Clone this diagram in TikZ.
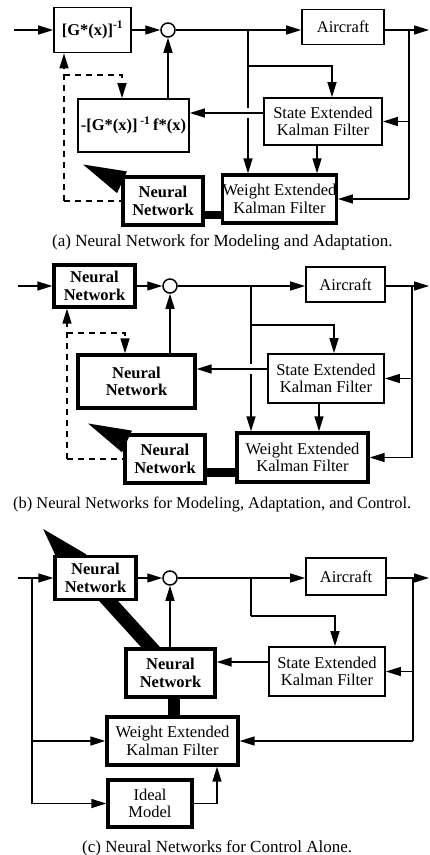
\documentclass[tikz,border=0pt]{standalone}
\usepackage{fontspec}
\setmainfont{Liberation Serif}
\usetikzlibrary{arrows.meta,backgrounds,calc}

\tikzset{
  wire/.style={line width=1.4pt},
  headtip/.style={-{Triangle[length=15pt,width=9pt]}},
  arr/.style={wire,headtip},
  dashwire/.style={line width=1.4pt, dash pattern=on 6pt off 5pt},
  plainbox/.style={draw, line width=1.7pt, fill=white, inner sep=0pt, align=center,
    font=\fontsize{16.5pt}{17.5pt}\selectfont},
  heavybox/.style={plainbox, line width=3.3pt},
  nnbox/.style={heavybox, font=\fontsize{16.5pt}{17.5pt}\selectfont\bfseries},
  sumnode/.style={circle, draw, line width=1.5pt, fill=white, minimum size=14pt, inner sep=0pt},
  thickbar/.style={line width=#1},
  fatarrow/.style={line width=6pt, -{Triangle[length=44pt,width=22pt]}},
  longarrow/.style={line width=14pt, -{Triangle[length=60pt,width=24pt]}},
  captext/.style={anchor=base west, inner sep=0pt, font=\fontsize{17pt}{20pt}\selectfont},
}

\begin{document}
\begin{tikzpicture}[x=1pt,y=-1pt]
\useasboundingbox (0,0) rectangle (429,855);

%% ---------------- (a) modeling and adaptation ----------------
\node[plainbox, minimum width=77pt, minimum height=45pt] (ga) at (92.5,30) {\textbf{[G*(x)]\textsuperscript{-1}}};
\node[sumnode] (ca) at (168,30) {};
\node[plainbox, minimum width=82pt, minimum height=35pt] (aa) at (343,27) {Aircraft};
\node[plainbox, minimum width=118pt, minimum height=47pt] (sa) at (323,121.5) {State Extended\\Kalman Filter};
\node[plainbox, minimum width=111pt, minimum height=53pt] (fa) at (133.5,125.5) {\textbf{-[G*(x)]\,\textsuperscript{-1}\,f*(x)}};
\node[nnbox, minimum width=80pt, minimum height=48pt] (na) at (163,201) {Neural\\Network};
\node[heavybox, minimum width=89pt, minimum height=48pt] (wa) at (279.5,199) {Weight Extended\\Kalman Filter};

\coordinate (ina) at (14,30);
\coordinate (outa) at (429,30);
\coordinate (ja) at (248,30);
\coordinate (ka) at (248,66);
\coordinate (la) at (332,66);
\coordinate (ra) at (409,30);
\coordinate (hfa) at (248,113);
\coordinate (da) at (64,75);
\coordinate (ea) at (122,75);
\coordinate (qa) at (64,201);
\coordinate (tipa) at (82,164);
\coordinate (sba) at (317,0);

\draw[arr] (ina) -- (ga);
\draw[arr] (ga) -- (ca);
\draw[arr] (ca) -- (ca -| aa.west);
\draw[arr] (aa.east |- outa) -- (outa);
\draw[wire] (ja) -- ($(hfa)+(0,-5)$);
\draw[arr] ($(hfa)+(0,5)$) -- (ja |- wa.north);
\draw[arr] (ka) -- (la) -- (la |- sa.north);
\draw[wire] (ra) -- (ra |- wa.east);
\draw[arr] (ra |- sa.east) -- (sa.east);
\draw[arr] (ra |- wa.east) -- (wa.east);
\draw[arr] (sba |- sa.south) -- (sba |- wa.north);
\draw[arr] (sa.west |- hfa) -- (fa.east |- hfa);
\draw[arr] (fa.north -| ca) -- (ca);
\draw[dashwire, headtip] (qa) -- (da) -- (ga.south -| da);
\draw[dashwire, headtip] (da) -- (ea) -- (ea |- fa.north);
\draw[dashwire] (qa) -- (qa -| na.west);
\draw[thickbar=8pt] (na.east |- 0,215) -- (wa.west |- 0,215);
\draw[fatarrow] (na) -- (tipa);

\node[captext] (capa) at (52,246) {(a) Neural Network for Modeling and Adaptation.};

%% ---------------- (b) modeling, adaptation and control ----------------
\node[nnbox, minimum width=81pt, minimum height=42pt] (nb) at (94.5,286) {Neural\\Network};
\node[sumnode] (cb) at (170,286) {};
\node[plainbox, minimum width=79pt, minimum height=35pt] (ab) at (345.5,284.5) {Aircraft};
\node[plainbox, minimum width=116pt, minimum height=49pt] (sb) at (326,378.5) {State Extended\\Kalman Filter};
\node[nnbox, minimum width=117pt, minimum height=53pt] (mb) at (136.5,381.5) {Neural\\Network};
\node[heavybox, minimum width=131pt, minimum height=49pt] (wb) at (302.5,457.5) {Weight Extended\\Kalman Filter};
\node[nnbox, minimum width=80pt, minimum height=48pt] (nbb) at (165,459) {Neural\\Network};

\coordinate (inb) at (18,286);
\coordinate (outb) at (429,286);
\coordinate (jb) at (251,286);
\coordinate (kb) at (251,325);
\coordinate (lb) at (334,325);
\coordinate (rb) at (412,286);
\coordinate (hfb) at (251,369);
\coordinate (db) at (67,333);
\coordinate (eb) at (125,333);
\coordinate (qb) at (67,459);
\coordinate (tipb) at (87,423);
\coordinate (sbb) at (319,0);

\draw[arr] (inb) -- (nb);
\draw[arr] (nb) -- (cb);
\draw[arr] (cb) -- (cb -| ab.west);
\draw[arr] (ab.east |- outb) -- (outb);
\draw[wire] (jb) -- ($(hfb)+(0,-5)$);
\draw[arr] ($(hfb)+(0,5)$) -- (jb |- wb.north);
\draw[arr] (kb) -- (lb) -- (lb |- sb.north);
\draw[wire] (rb) -- (rb |- wb.east);
\draw[arr] (rb |- sb.east) -- (sb.east);
\draw[arr] (rb |- wb.east) -- (wb.east);
\draw[arr] (sbb |- sb.south) -- (sbb |- wb.north);
\draw[arr] (sb.west |- hfb) -- (mb.east |- hfb);
\draw[arr] (mb.north -| cb) -- (cb);
\draw[dashwire, headtip] (qb) -- (db) -- (nb.south -| db);
\draw[dashwire, headtip] (db) -- (eb) -- (eb |- mb.north);
\draw[dashwire] (qb) -- (qb -| nbb.west);
\draw[thickbar=9pt] (nbb.east |- 0,472) -- (wb.west |- 0,472);
\draw[fatarrow] (nbb) -- (tipb);

\node[captext, font=\fontsize{16.4pt}{20pt}\selectfont] (capb) at (13,508) {(b) Neural Networks for Modeling, Adaptation, and Control.};

%% ---------------- (c) control alone ----------------
\node[nnbox, minimum width=81pt, minimum height=43pt] (nc) at (95.5,578) {Neural\\Network};
\node[sumnode] (cc) at (170,578) {};
\node[plainbox, minimum width=80pt, minimum height=37pt] (ac) at (346,576.5) {Aircraft};
\node[plainbox, minimum width=116pt, minimum height=49pt] (sc) at (327,671.5) {State Extended\\Kalman Filter};
\node[nnbox, minimum width=89pt, minimum height=48pt] (mc) at (170.5,673) {Neural\\Network};
\node[heavybox, minimum width=131pt, minimum height=48pt] (wc) at (172.5,741) {Weight Extended\\Kalman Filter};
\node[heavybox, minimum width=84pt, minimum height=47pt] (ic) at (150,803.5) {Ideal\\Model};

\coordinate (inc) at (18,578);
\coordinate (lc) at (32,578);
\coordinate (outc) at (429,578);
\coordinate (jc) at (251,578);
\coordinate (kc) at (251,616);
\coordinate (mcn) at (335,616);
\coordinate (rc) at (413,578);
\coordinate (hfc) at (0,662);
\coordinate (uc) at (217,803.5);
\coordinate (bc) at (174,0);
\coordinate (stc) at (155,652);
\coordinate (tipc) at (35,520);

\draw[arr] (inc) -- (nc);
\draw[arr] (nc) -- (cc);
\draw[arr] (cc) -- (cc -| ac.west);
\draw[arr] (ac.east |- outc) -- (outc);
\draw[wire] (jc) -- (kc);
\draw[arr] (kc) -- (mcn) -- (mcn |- sc.north);
\draw[wire] (rc) -- (rc |- wc.east);
\draw[arr] (rc |- sc.east) -- (sc.east);
\draw[arr] (rc |- wc.east) -- (wc.east);
\draw[arr] (sc.west |- hfc) -- (mc.east |- hfc);
\draw[arr] (mc.north -| cc) -- (cc);
\draw[wire] (lc) -- (lc |- ic.west);
\draw[arr] (lc |- wc.west) -- (wc.west);
\draw[arr] (lc |- ic.west) -- (ic.west);
\draw[arr] (ic.east) -- (uc) -- (uc |- wc.south);
\draw[thickbar=12pt] (bc |- mc.south) -- (bc |- wc.north);

\node[captext] (capc) at (82,852) {(c) Neural Networks for Control Alone.};

\begin{scope}[on background layer]
  \fill[white] (0,0) rectangle (429,855);
  \draw[longarrow] (stc) -- (tipc);
\end{scope}
\end{tikzpicture}
\end{document}
